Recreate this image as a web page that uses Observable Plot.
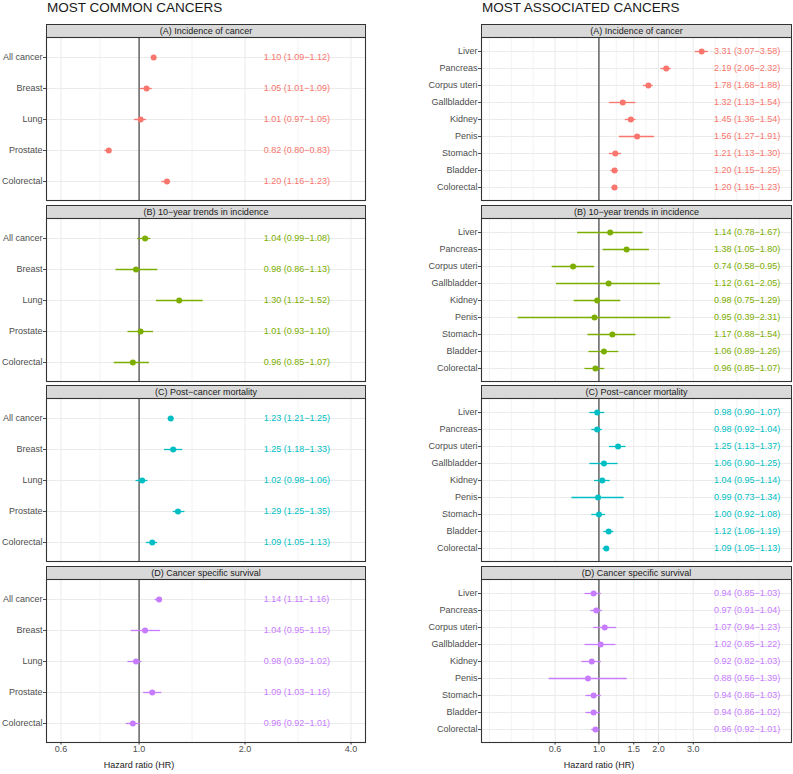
<!DOCTYPE html>
<html><head><meta charset="utf-8">
<script src="https://cdn.jsdelivr.net/npm/d3@7"></script>
<script src="https://cdn.jsdelivr.net/npm/@observablehq/plot@0.6"></script>
<style>
body{margin:0;background:#fff;}
#fig{position:relative;width:793px;height:774px;overflow:hidden;font-family:"Liberation Sans",Arial,sans-serif;background:#fff;}
.title{position:absolute;top:1px;font-family:"Liberation Sans Narrow","Liberation Sans",sans-serif;font-size:13.5px;line-height:13px;color:#1a1a1a;white-space:nowrap;}
.strip{position:absolute;box-sizing:border-box;height:14px;background:#d9d9d9;border:1px solid #333;font-size:9px;color:#1a1a1a;text-align:center;line-height:12px;white-space:nowrap;}
.panel{position:absolute;}
</style>
</head><body>
<div id="fig"></div>
<script>
// ---------- data ----------
const titles = ["MOST COMMON CANCERS", "MOST ASSOCIATED CANCERS"];
const panelTitles = ["(A) Incidence of cancer", "(B) 10\u2212year trends in incidence", "(C) Post\u2212cancer mortality", "(D) Cancer specific survival"];
const colors = ["#F8766D", "#7CAE00", "#00BFC4", "#C77CFF"];
const axisTitle = "Hazard ratio (HR)";

const leftCats = ["All cancer", "Breast", "Lung", "Prostate", "Colorectal"];
const leftIncEst = [1.10, 1.05, 1.01, 0.82, 1.20];
const leftIncLo  = [1.09, 1.01, 0.97, 0.80, 1.16];
const leftIncHi  = [1.12, 1.09, 1.05, 0.83, 1.23];
const leftTrendEst = [1.04, 0.98, 1.30, 1.01, 0.96];
const leftTrendLo  = [0.99, 0.86, 1.12, 0.93, 0.85];
const leftTrendHi  = [1.08, 1.13, 1.52, 1.10, 1.07];
const leftMortEst = [1.23, 1.25, 1.02, 1.29, 1.09];
const leftMortLo  = [1.21, 1.18, 0.98, 1.25, 1.05];
const leftMortHi  = [1.25, 1.33, 1.06, 1.35, 1.13];
const leftSurvEst = [1.14, 1.04, 0.98, 1.09, 0.96];
const leftSurvLo  = [1.11, 0.95, 0.93, 1.03, 0.92];
const leftSurvHi  = [1.16, 1.15, 1.02, 1.16, 1.01];

const rightCats = ["Liver", "Pancreas", "Corpus uteri", "Gallbladder", "Kidney", "Penis", "Stomach", "Bladder", "Colorectal"];
const rightIncEst = [3.31, 2.19, 1.78, 1.32, 1.45, 1.56, 1.21, 1.20, 1.20];
const rightIncLo  = [3.07, 2.06, 1.68, 1.13, 1.36, 1.27, 1.13, 1.15, 1.16];
const rightIncHi  = [3.58, 2.32, 1.88, 1.54, 1.54, 1.91, 1.30, 1.25, 1.23];
const rightTrendEst = [1.14, 1.38, 0.74, 1.12, 0.98, 0.95, 1.17, 1.06, 0.96];
const rightTrendLo  = [0.78, 1.05, 0.58, 0.61, 0.75, 0.39, 0.88, 0.89, 0.85];
const rightTrendHi  = [1.67, 1.80, 0.95, 2.05, 1.29, 2.31, 1.54, 1.26, 1.07];
const rightMortEst = [0.98, 0.98, 1.25, 1.06, 1.04, 0.99, 1.00, 1.12, 1.09];
const rightMortLo  = [0.90, 0.92, 1.13, 0.90, 0.95, 0.73, 0.92, 1.06, 1.05];
const rightMortHi  = [1.07, 1.04, 1.37, 1.25, 1.14, 1.34, 1.08, 1.19, 1.13];
const rightSurvEst = [0.94, 0.97, 1.07, 1.02, 0.92, 0.88, 0.94, 0.94, 0.96];
const rightSurvLo  = [0.85, 0.91, 0.94, 0.85, 0.82, 0.56, 0.86, 0.86, 0.92];
const rightSurvHi  = [1.03, 1.04, 1.23, 1.22, 1.03, 1.39, 1.03, 1.02, 1.01];

const leftTicks = [0.6, 1, 2, 4];
const leftMinor = [0.775, 1.414, 2.828];
const leftLimits = [0.6, 4];
const leftLabelX = 2.26;

const rightTicks = [0.6, 1, 1.5, 2, 3];
const rightMinor = [0.279, 0.36, 0.465, 0.775, 1.225, 1.732, 2.449, 3.873, 5.0, 6.455];
const rightLimits = [0.3, 8];
const rightLabelX = 3.82;

// ---------- layout ----------
const fig = document.getElementById("fig");
function expandLog([a, b]) {
  const la = Math.log(a), lb = Math.log(b), e = 0.05 * (lb - la);
  return [Math.exp(la - e), Math.exp(lb + e)];
}
const sides = [
  {left: 0, marginLeft: 46, width: 366, cats: leftCats, ticks: leftTicks, minor: leftMinor, domain: expandLog(leftLimits), labelX: leftLabelX,
   series: [[leftIncEst, leftIncLo, leftIncHi], [leftTrendEst, leftTrendLo, leftTrendHi], [leftMortEst, leftMortLo, leftMortHi], [leftSurvEst, leftSurvLo, leftSurvHi]]},
  {left: 400, marginLeft: 81, width: 392, cats: rightCats, ticks: rightTicks, minor: rightMinor, domain: expandLog(rightLimits), labelX: rightLabelX,
   series: [[rightIncEst, rightIncLo, rightIncHi], [rightTrendEst, rightTrendLo, rightTrendHi], [rightMortEst, rightMortLo, rightMortHi], [rightSurvEst, rightSurvLo, rightSurvHi]]}
];
const fmt = v => v.toFixed(2);

sides.forEach((cfg, s) => {
  const t = document.createElement("div");
  t.className = "title";
  t.style.left = (cfg.left + cfg.marginLeft + 1) + "px";
  t.textContent = titles[s];
  fig.appendChild(t);

  cfg.series.forEach(([est, lo, hi], k) => {
    const T = Math.round(24 + k * 180.67);
    const strip = document.createElement("div");
    strip.className = "strip";
    strip.style.left = (cfg.left + cfg.marginLeft) + "px";
    strip.style.top = T + "px";
    strip.style.width = (cfg.width - cfg.marginLeft) + "px";
    strip.textContent = panelTitles[k];
    fig.appendChild(strip);

    const rows = cfg.cats.map((c, j) => ({cat: c, est: est[j], lo: lo[j], hi: hi[j],
      label: `${fmt(est[j])} (${fmt(lo[j])}\u2212${fmt(hi[j])})`}));
    const last = k === 3;
    const color = colors[k];
    const marks = [
      Plot.ruleX(cfg.minor, {stroke: "#ebebeb", strokeWidth: 0.6}),
      Plot.ruleX(cfg.ticks, {stroke: "#ebebeb", strokeWidth: 1.1}),
      Plot.ruleY(cfg.cats, {stroke: "#ebebeb", strokeWidth: 1.1}),
      Plot.ruleX([1], {stroke: "#333333", strokeWidth: 1.1}),
      Plot.ruleY(rows, {y: "cat", x1: "lo", x2: "hi", stroke: color, strokeWidth: 1.3}),
      Plot.dot(rows, {x: "est", y: "cat", r: 3, fill: color}),
      Plot.text(rows, {x: () => cfg.labelX, y: "cat", text: "label", textAnchor: "start", fill: color, fontSize: 9}),
      Plot.frame({stroke: "#333333", strokeWidth: 1.1}),
      Plot.axisY({tickSize: 3, tickPadding: 1, fontSize: 9, color: "#4d4d4d", label: null})
    ];
    if (last) {
      marks.push(Plot.axisX(cfg.ticks, {tickSize: 2.5, fontSize: 9, color: "#333333", tickFormat: () => "", label: null}));
      marks.push(Plot.text(cfg.ticks, {x: d => d, text: d => d.toFixed(1), frameAnchor: "bottom", dy: 9, fontSize: 9, fill: "#4d4d4d"}));
      marks.push(Plot.text([axisTitle], {x: () => 1, frameAnchor: "bottom", dy: 25, fontSize: 9, fill: "#1a1a1a", text: d => d}));
    }
    const chart = Plot.plot({
      width: cfg.width,
      height: last ? 196 : 165,
      marginLeft: cfg.marginLeft, marginRight: 1, marginTop: 1, marginBottom: last ? 32 : 1,
      style: {fontFamily: "'Liberation Sans', Arial, sans-serif", background: "transparent", overflow: "visible"},
      x: {type: "log", domain: cfg.domain, axis: last ? undefined : null},
      y: {type: "point", domain: cfg.cats, padding: 0.6},
      marks
    });
    const wrap = document.createElement("div");
    wrap.className = "panel";
    wrap.style.left = cfg.left + "px";
    wrap.style.top = (T + 12) + "px";
    wrap.appendChild(chart);
    fig.appendChild(wrap);
  });
});
</script>
</body></html>
